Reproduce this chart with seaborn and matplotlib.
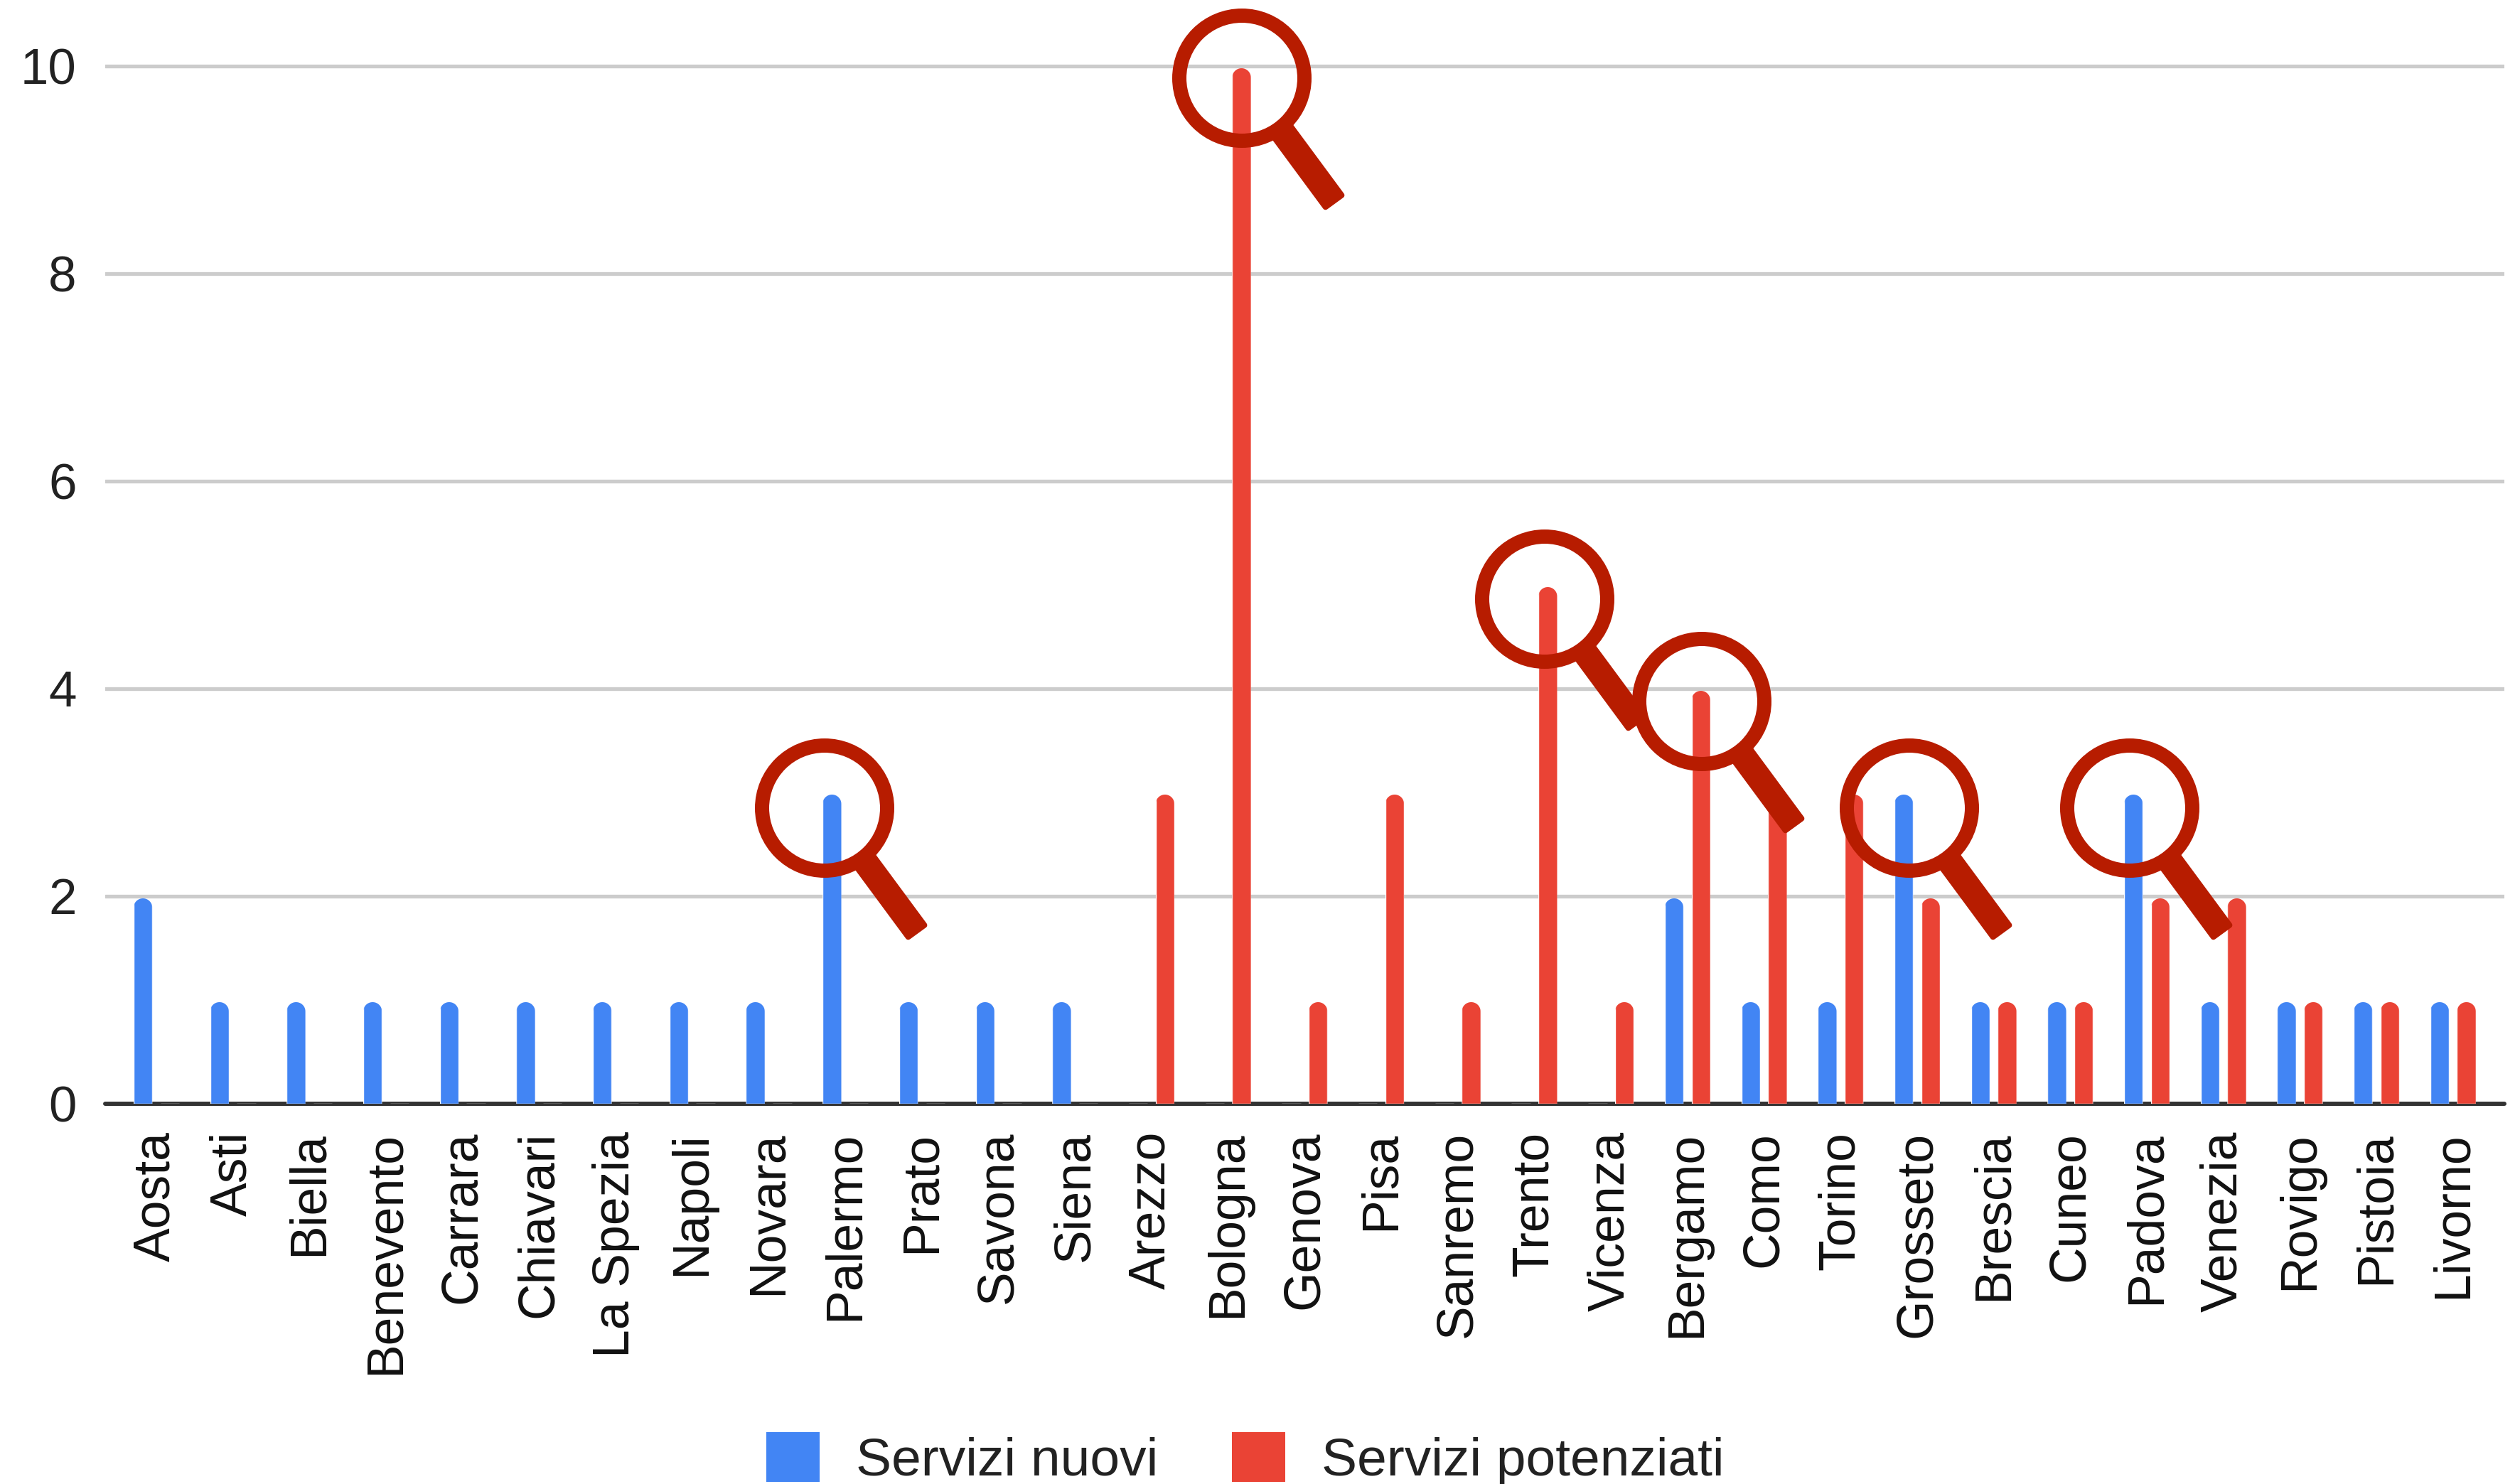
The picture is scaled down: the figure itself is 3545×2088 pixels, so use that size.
# Servizi nuovi / potenziati per citta
import numpy as np
import pandas as pd
import seaborn as sns
import matplotlib.pyplot as plt
from matplotlib.patches import Circle, Patch, Polygon
from matplotlib.path import Path
from matplotlib.transforms import IdentityTransform

W, H = 3545, 2088

# Data
cities = ["Aosta", "Asti", "Biella", "Benevento", "Carrara", "Chiavari", "La Spezia", "Napoli",
          "Novara", "Palermo", "Prato", "Savona", "Siena", "Arezzo", "Bologna", "Genova", "Pisa",
          "Sanremo", "Trento", "Vicenza", "Bergamo", "Como", "Torino", "Grosseto", "Brescia",
          "Cuneo", "Padova", "Venezia", "Rovigo", "Pistoia", "Livorno"]
servizi_nuovi = [2, 1, 1, 1, 1, 1, 1, 1, 1, 3, 1, 1, 1, 0, 0, 0, 0, 0, 0, 0,
                 2, 1, 1, 3, 1, 1, 3, 1, 1, 1, 1]
servizi_potenziati = [0, 0, 0, 0, 0, 0, 0, 0, 0, 0, 0, 0, 0, 3, 10, 1, 3, 1, 5, 1,
                      4, 3, 3, 2, 1, 1, 2, 2, 1, 1, 1]
y_ticks = [0, 2, 4, 6, 8, 10]
series_names = ["Servizi nuovi", "Servizi potenziati"]

BLUE = "#4285F4"
RED = "#EA4335"
LENS = "#B71C00"

# Magnifier overlays, centre of the ring in image pixels
lens_centres = [(1747, 110), (1160, 1137), (2173, 843), (2394, 987), (2686, 1137), (2996, 1137)]

df = pd.DataFrame({"city": cities * 2,
                   "value": servizi_nuovi + servizi_potenziati,
                   "series": [series_names[0]] * len(cities) + [series_names[1]] * len(cities)})

sns.set_theme(style="white")
plt.rcParams["font.family"] = ["Liberation Sans", "DejaVu Sans"]

fig = plt.figure(figsize=(W / 100, H / 100), dpi=100)
base_y = 1553
unit = 146
ax = fig.add_axes([148 / W, (H - base_y) / H, (3523 - 148) / W, base_y / H])

sns.barplot(data=df, x="city", y="value", hue="series", palette=[BLUE, RED],
            width=0.70, gap=0.30, dodge=True, saturation=1, legend=False, ax=ax, zorder=3)

ax.set_xlim(-0.668, 30.67)
ax.set_ylim(0, base_y / unit)
ax.set_yticks(y_ticks)
ax.set_xlabel("")
ax.set_ylabel("")
sns.despine(ax=ax, left=True, bottom=True, top=True, right=True)
ax.grid(axis="y", color="#CCCCCC", lw=3.8, zorder=0)
ax.grid(axis="x", visible=False)
ax.set_axisbelow(True)
ax.axhline(0, color="#333333", lw=4.3, zorder=2, clip_on=False)
ax.tick_params(axis="y", length=0, pad=29, labelsize=51, labelcolor="#222222")
ax.tick_params(axis="x", length=0, pad=28, labelsize=51.5, labelcolor="#111111", labelrotation=90)


def round_top(bar):
    # clip a bar to a shape with a half circle on top, in pixels
    (x0, y0), (x1, y1) = ax.transData.transform([(bar.get_x(), 0),
                                                 (bar.get_x() + bar.get_width(), bar.get_height())])
    r = (x1 - x0) / 2
    y1 = y1 - 3
    t = np.linspace(0, np.pi, 24)
    top = np.column_stack([x0 + r + r * np.cos(t), y1 - r + r * np.sin(t)])
    pts = np.vstack([[(x1, y0 - 4)], top, [(x0, y0 - 4)], [(x1, y0 - 4)]])
    bar.set_clip_path(Path(pts, closed=True), IdentityTransform())


for container in ax.containers:
    for bar in container:
        if bar.get_height() > 0:
            round_top(bar)

# Legend at the bottom edge
handles = [Patch(facecolor=c, edgecolor=c, lw=7.2, joinstyle="round") for c in (BLUE, RED)]
fig.legend(handles, series_names, loc="lower left", bbox_to_anchor=(1083 / W, -3 / H),
           frameon=False, fontsize=54, labelcolor="#222222", borderpad=0, borderaxespad=0,
           ncol=2, handlelength=0.867, handleheight=0.867, handletextpad=0.75, columnspacing=1.44)


def draw_lens(cx, cy):
    # ring and handle, in image pixels (y down)
    cy = H - cy
    fig.add_artist(Circle((cx, cy), 88, fill=False, edgecolor=LENS, lw=14.4,
                          transform=IdentityTransform(), zorder=10))
    sx, sy = cx + 50, cy - 66
    ex, ey = cx + 129, cy - 173
    nx, ny = 0.81 * 14, 0.59 * 14
    corners = [(sx - nx, sy - ny), (sx + nx, sy + ny), (ex + nx, ey + ny), (ex - nx, ey - ny)]
    fig.add_artist(Polygon(corners, closed=True, facecolor=LENS, edgecolor=LENS, lw=5.8,
                           joinstyle="round", transform=IdentityTransform(), zorder=10))


for cx, cy in lens_centres:
    draw_lens(cx, cy)

fig.savefig("out.png", dpi=100, facecolor="white")
